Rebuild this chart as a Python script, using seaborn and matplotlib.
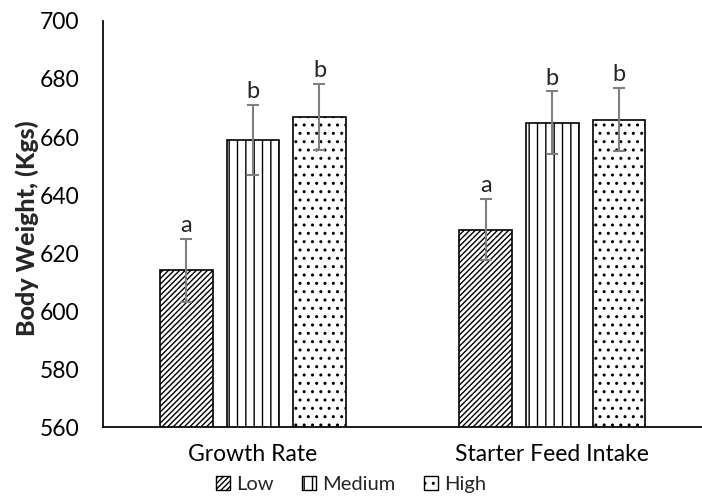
import pandas as pd
import matplotlib
matplotlib.use("Agg")
import matplotlib.pyplot as plt
import seaborn as sns
from matplotlib.patches import Patch

# Data
categories = ["Growth Rate", "Starter Feed Intake"]
levels = ["Low", "Medium", "High"]
means = {
    "Low": [614, 628],
    "Medium": [659, 665],
    "High": [667, 666],
}
errors = {
    "Low": [11, 10.5],
    "Medium": [12, 10.7],
    "High": [11.4, 10.8],
}
letters = {
    "Low": ["a", "a"],
    "Medium": ["b", "b"],
    "High": ["b", "b"],
}
hatches = {"Low": "//////", "Medium": "||", "High": ".."}

sns.set_theme(style="white")
plt.rcParams["font.family"] = ["Lato", "DejaVu Sans"]
plt.rcParams["hatch.linewidth"] = 1.0

rows = []
for lv in levels:
    for i, cat in enumerate(categories):
        rows.append({"Trait": cat, "Level": lv, "Weight": means[lv][i]})
df = pd.DataFrame(rows)

fig = plt.figure(figsize=(7.02, 4.99), dpi=100)
ax = fig.add_axes([0.147, 0.144, 0.853, 0.814])

sns.barplot(data=df, x="Trait", y="Weight", hue="Level", order=categories,
            hue_order=levels, palette=["white"] * 3, edgecolor="black",
            linewidth=1.2, width=0.667, gap=0.21, legend=False, ax=ax)

for container, lv in zip(ax.containers, levels):
    for bar, i in zip(container, range(len(categories))):
        bar.set_hatch(hatches[lv])
        x = bar.get_x() + bar.get_width() / 2
        y = bar.get_height()
        e = errors[lv][i]
        ax.errorbar(x, y, yerr=e, color="#808080", capsize=4.5, capthick=1.5,
                    elinewidth=1.5, fmt="none")
        ax.text(x, y + e + 1.0, letters[lv][i], ha="center", va="bottom",
                fontsize=17)

ax.set_ylim(560, 700)
ax.set_xlim(-0.5, 1.5)
ax.set_yticks(range(560, 701, 20))
ax.set_xlabel("")
ax.set_ylabel("Body Weight, (Kgs)", fontsize=18, fontweight="black")
ax.yaxis.set_label_coords(-0.108, 0.49)
ax.tick_params(axis="both", length=0, labelsize=16.5, colors="black")
ax.tick_params(axis="y", pad=17)
ax.tick_params(axis="x", pad=12)
sns.despine(ax=ax, top=True, right=True)
ax.spines["left"].set_color("black")
ax.spines["bottom"].set_color("black")

handles = [Patch(facecolor="white", edgecolor="black", hatch=hatches[lv], label=lv)
           for lv in levels]
fig.legend(handles=handles, loc="lower center", bbox_to_anchor=(0.5, -0.025),
           ncol=3, frameon=False, fontsize=14.5, handlelength=0.7,
           handleheight=0.7, handletextpad=0.3, columnspacing=1.4)

fig.savefig("out.png", dpi=100)
